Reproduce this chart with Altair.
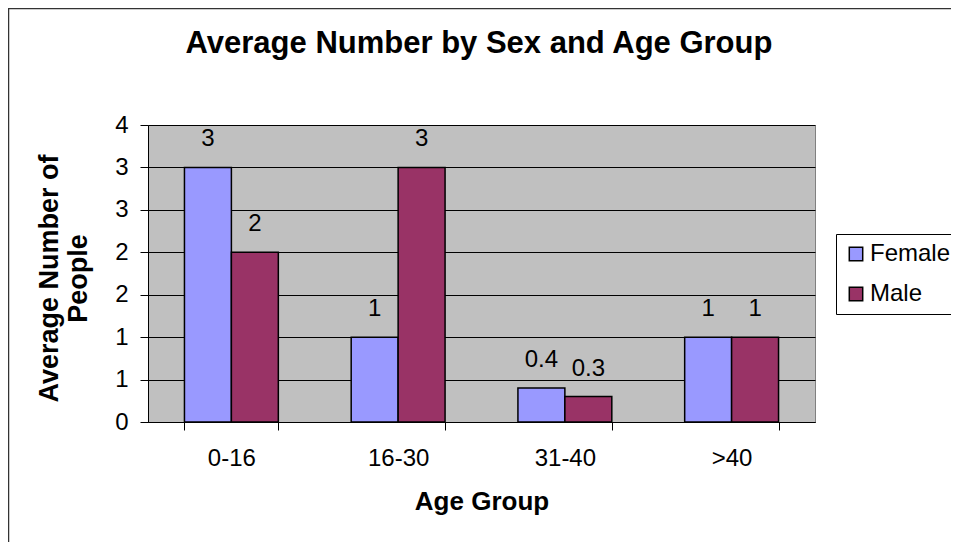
import altair as alt
import pandas as pd

# ---- data ----
chart_title = "Average Number by Sex and Age Group"
age_groups = ["0-16", "16-30", "31-40", ">40"]
sexes = ["Female", "Male"]
female_values = [3.0, 1.0, 0.4, 1.0]
male_values = [2.0, 3.0, 0.3, 1.0]
female_labels = ["3", "1", "0.4", "1"]
male_labels = ["2", "3", "0.3", "1"]
y_ticks = [0, 0.5, 1, 1.5, 2, 2.5, 3, 3.5]
y_tick_labels = ["0", "1", "1", "2", "2", "3", "3", "4"]
colors = ["#9999FF", "#993366"]

rows = []
for i, g in enumerate(age_groups):
    rows.append({"age": g, "sex": "Female", "value": female_values[i], "label": female_labels[i]})
    rows.append({"age": g, "sex": "Male", "value": male_values[i], "label": male_labels[i]})
df = pd.DataFrame(rows)
one = pd.DataFrame({"t": [chart_title]})

FONT = "Liberation Sans"

label_expr = "[" + ",".join("'%s'" % s for s in y_tick_labels) + "][indexof([" + \
    ",".join(str(v) for v in y_ticks) + "], datum.value)]"

x_enc = alt.X(
    "age:N", sort=age_groups,
    scale=alt.Scale(paddingInner=0.437, paddingOuter=0.2186),
    axis=alt.Axis(
        title="Age Group", labelAngle=0, tickBand="extent", tickSize=8,
        labelPadding=16, labelFontSize=24, titleFontSize=26, titleFontWeight="bold",
        titlePadding=18, grid=False,
    ),
)
xoff_enc = alt.XOffset("sex:N", sort=sexes, scale=alt.Scale(paddingInner=0, paddingOuter=0))
y_enc = alt.Y(
    "value:Q",
    scale=alt.Scale(domain=[0, 3.5], nice=False, zero=True),
    axis=alt.Axis(
        title=["Average Number of", "People"], values=y_ticks, labelExpr=label_expr,
        tickSize=8, labelPadding=12, labelFontSize=24, titleFontSize=27,
        titleFontWeight="bold", titlePadding=22, titleLineHeight=29, grid=True,
        titleY=153,
    ),
)

bars = alt.Chart(df).mark_bar(stroke="black", strokeWidth=1.5).encode(
    x=x_enc,
    xOffset=xoff_enc,
    y=y_enc,
    color=alt.Color(
        "sex:N", sort=sexes,
        scale=alt.Scale(domain=sexes, range=colors),
        legend=alt.Legend(
            title=None, orient="none", legendX=688, legendY=109,
            strokeColor="black", fillColor="white", padding=8,
            labelFontSize=24, labelColor="black", labelOffset=2,
            symbolType="square", symbolSize=180, symbolStrokeColor="black",
            symbolStrokeWidth=1.5, rowPadding=16, cornerRadius=0,
        ),
    ),
)

texts = alt.Chart(df).mark_text(fontSize=24, color="black", dy=-21, baseline="alphabetic").encode(
    x=alt.X("age:N", sort=age_groups),
    xOffset=alt.XOffset("sex:N", sort=sexes),
    y=alt.Y("value:Q"),
    text="label:N",
)

title_mark = alt.Chart(one).mark_text(
    fontSize=31, fontWeight="bold", color="black", baseline="alphabetic", align="center"
).encode(x=alt.value(331), y=alt.value(-72), text="t:N")

border_left = alt.Chart(one).mark_rule(color="#333333", strokeWidth=1.5).encode(
    x=alt.value(-139.5), y=alt.value(-117), y2=alt.value(417)
)
border_top = alt.Chart(one).mark_rule(color="#333333", strokeWidth=1.5).encode(
    x=alt.value(-140), x2=alt.value(803), y=alt.value(-116.5)
)

chart = alt.layer(bars, texts, title_mark, border_left, border_top).properties(
    width=667,
    height=297,
    autosize=alt.AutoSizeParams(type="none"),
    padding={"left": 140, "top": 117, "right": 136, "bottom": 120},
).configure(font=FONT).configure_view(
    fill="#C0C0C0", stroke="#808080", strokeWidth=1
).configure_axis(
    labelColor="black", tickColor="black", domainColor="black", gridColor="black",
    titleColor="black", labelFont=FONT, titleFont=FONT, gridOpacity=1, domainWidth=1,
)

chart.save("out.html", embed_options={"renderer": "svg", "actions": False})
